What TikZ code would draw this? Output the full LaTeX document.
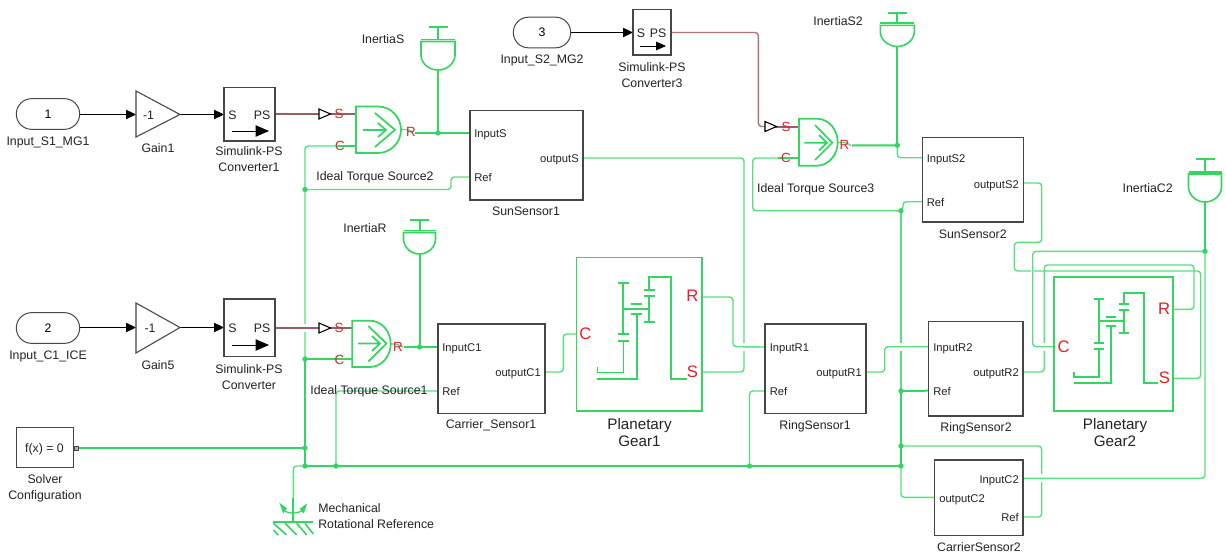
\documentclass[tikz,border=0pt]{standalone}
\usepackage{fontspec}
\setmainfont{Liberation Sans}
\usetikzlibrary{arrows.meta,calc}
\definecolor{gw}{RGB}{51,214,96}
\definecolor{gl}{RGB}{88,224,128}
\definecolor{brw}{RGB}{150,95,100}
\definecolor{brl}{RGB}{175,115,120}
\definecolor{txtc}{RGB}{35,35,35}
\definecolor{redc}{RGB}{235,30,40}
\definecolor{edgec}{RGB}{70,70,70}
\tikzset{
  sysblock/.style={draw=edgec,line width=.95pt,fill=white,inner sep=0pt,outer sep=0pt},
  thickw/.style={draw=gw,line width=1.5pt},
  thinw/.style={draw=gl,line width=1.05pt,rounded corners=2.5pt},
  brownw/.style={draw=brw,line width=1.5pt},
  brownt/.style={draw=brl,line width=1.05pt,rounded corners=2.5pt},
  sig/.style={draw=black,line width=.75pt,-{Triangle[length=7.5pt,width=7pt]}},
  gear/.style={draw=gw,line width=1.5pt},
  gearbox/.style={draw=gw,line width=1.4pt,inner sep=0pt,outer sep=0pt},
  junc/.style={circle,fill=gw,inner sep=0pt,minimum size=4pt},
  lbl/.style={font=\fontsize{9.25}{12}\selectfont,text=txtc,align=center,inner sep=0pt,text height=.72em,text depth=0pt},
  small/.style={font=\fontsize{8.4}{10}\selectfont,text=txtc,inner sep=0pt,text height=.72em,text depth=0pt},
  big/.style={font=\fontsize{11.4}{12.75}\selectfont,text=txtc,align=center,inner sep=0pt,text height=.72em,text depth=0pt},
  redl/.style={font=\fontsize{10}{12}\selectfont,text=redc,inner sep=0pt,text height=.72em,text depth=0pt},
  redb/.style={font=\fontsize{12.5}{14}\selectfont,text=redc,inner sep=0pt,text height=.72em,text depth=0pt},
}
\newcommand{\blk}[6][sysblock]{\pgfmathsetmacro\bx{(#3+#5)/2}\pgfmathsetmacro\by{(#4+#6)/2}\pgfmathsetmacro\bw{(#5-#3)*0.75}\pgfmathsetmacro\bh{(#6-#4)*0.75}\node[#1,minimum width=\bw pt,minimum height=\bh pt] (#2) at (\bx,\by) {};}
\newcommand{\tsrc}[5]{\pgfmathsetmacro\ym{(#2+#3)/2}\pgfmathsetmacro\ka{#4+(#5-#4)*.55}\pgfmathsetmacro\kb{\ym-(#3-#2)*.275}\pgfmathsetmacro\kc{\ym+(#3-#2)*.275}\draw[draw=gw,line width=1.3pt,fill=white] (#1,#2)--(#4,#2) .. controls (\ka,#2) and (#5,\kb) .. (#5,\ym) .. controls (#5,\kc) and (\ka,#3) .. (#4,#3) --(#1,#3)--cycle;}
\newcommand{\inert}[5]{\pgfmathsetmacro\xl{#1-#5}\pgfmathsetmacro\xr{#1+#5}\pgfmathsetmacro\bl{#1-9.5}\pgfmathsetmacro\br{#1+9.5}\pgfmathsetmacro\yc{#3+2}\pgfmathsetmacro\ys{#4-15}\pgfmathsetmacro\kl{#1-#5*.55}\pgfmathsetmacro\kr{#1+#5*.55}\pgfmathsetmacro\ykk{#4-7}
\draw[thickw] (\bl,#2)--(\br,#2) (#1,#2)--(#1,#3);
\draw[draw=gw,line width=1.4pt] (\xl,#3)--(\xr,#3);
\draw[draw=gw,line width=1.2pt] (\xl,\yc)--(\xr,\yc)--(\xr,\ys) .. controls (\xr,\ykk) and (\kr,#4) .. (#1,#4) .. controls (\kl,#4) and (\xl,\ykk) .. (\xl,\ys)--cycle;}
\newcommand{\opentri}[2]{\pgfmathsetmacro\xa{#1+11.5}\pgfmathsetmacro\ya{#2-5}\pgfmathsetmacro\yb{#2+5}\draw[black,line width=.8pt,fill=white] (#1,\ya)--(\xa,#2)--(#1,\yb)--cycle;}
\newcommand{\gapat}[2]{\pgfmathsetmacro\ya{#2-4}\pgfmathsetmacro\yb{#2+4}\draw[white,line width=2pt] (#1,\ya)--(#1,\yb);}
\begin{document}
\begin{tikzpicture}[x=0.75pt,y=-0.75pt]
\useasboundingbox (0,0) rectangle (1226,553);
\fill[white] (0,0) rectangle (1226,553);

% ---------- named ports
\coordinate (in1out) at (80,114.5);
\coordinate (g1in) at (136,114.5); \coordinate (g1out) at (180,114.5);
\coordinate (cv1in) at (224,114.5); \coordinate (cv1out) at (274,114);
\coordinate (tri2) at (319,114); \coordinate (ts2S) at (356,114); \coordinate (ts2C) at (356,146);
\coordinate (ts2R) at (401,129.5);
\coordinate (s1In) at (470,133); \coordinate (s1Ref) at (470,177); \coordinate (s1Out) at (583,158);
\coordinate (in2out) at (80,327.5);
\coordinate (g5in) at (136,327.5); \coordinate (g5out) at (180,327.5);
\coordinate (cvin) at (224,327.5); \coordinate (cvout) at (274,328);
\coordinate (tri1) at (319,328); \coordinate (ts1S) at (352,328); \coordinate (ts1C) at (352,359);
\coordinate (ts1R) at (391,344);
\coordinate (c1In) at (438,347); \coordinate (c1Ref) at (438,391); \coordinate (c1Out) at (545,372);
\coordinate (pg1C) at (576.5,334); \coordinate (pg1R) at (702,297); \coordinate (pg1S) at (702,372);
\coordinate (r1In) at (765,347); \coordinate (r1Ref) at (765,391); \coordinate (r1Out) at (866,372);
\coordinate (in3out) at (571,32.5); \coordinate (cv3in) at (633,32.5); \coordinate (cv3out) at (670,32.5);
\coordinate (tri3) at (765,126.5); \coordinate (ts3S) at (799,126.5); \coordinate (ts3C) at (799,158);
\coordinate (ts3R) at (838,142.5);
\coordinate (s2In) at (922,157.7); \coordinate (s2Ref) at (922,201.7); \coordinate (s2Out) at (1023,183);
\coordinate (r2In) at (928.5,346.7); \coordinate (r2Ref) at (928.5,390.7); \coordinate (r2Out) at (1023,372);
\coordinate (pg2C) at (1054.3,346.7); \coordinate (pg2R) at (1173.3,309.3); \coordinate (pg2S) at (1173.3,378.3);
\coordinate (c2In) at (1023,478.3); \coordinate (c2Out) at (935,497.3); \coordinate (c2Ref) at (1023,517);
\coordinate (solverp) at (77,448);
\coordinate (mech) at (293.3,522);
\coordinate (iS) at (438,70); \coordinate (iR) at (419.5,254); \coordinate (iS2) at (897.3,46.5); \coordinate (iC2) at (1205,202);

% ---------- junctions
\coordinate (j1) at (305,189.5); \coordinate (j2) at (305,359); \coordinate (j3) at (305,448); \coordinate (j4) at (305,466);
\coordinate (j5) at (336,466); \coordinate (j6) at (749.5,466); \coordinate (j7) at (901,466);
\coordinate (j8) at (901,446); \coordinate (j9) at (901,391); \coordinate (j10) at (901,210.7);
\coordinate (j11) at (438,133); \coordinate (j12) at (419.5,347); \coordinate (j13) at (897.3,145.3); \coordinate (j14) at (1205,251.3);

% ---------- wires that get crossed
\draw[thinw] (ts2C)-|(j2);
\draw[thickw] (j2)--(j4);
\draw[thinw] (j10)--(j9);
\draw[thickw] (j9)--(j7);
\draw[thinw] (j7)|-(c2Out);
\draw[thinw] (s1Out)-|(744,372)--(pg1S);
\draw[thinw] (pg2R)-|(1194,265)-|(1044.3,372)--(r2Out);
\draw[thinw] (c2Ref)-|(1041.7,446)--(j8);
\draw[thinw] (s2Out)-|(1041.7,242.3)-|(1014.3,271)-|(1200.7,378.3)--(pg2S);
\gapat{305}{328}\gapat{744}{347}\gapat{901}{346.7}\gapat{1044.3}{346.7}\gapat{1041.7}{478.3}\gapat{1032.7}{271}

% ---------- remaining wires
\draw[thinw] (j1)-|(451,177)--(s1Ref);
\draw[thinw] (c1Ref)-|(j5);
\draw[thinw] (j4)-|(mech);
\draw[thickw] (ts1C)--(j2);
\draw[thickw] (ts2C)--(338,146);
\draw[thickw] (solverp)--(j3);
\draw[thickw] (j4)--(j7);
\draw[thickw] (iS)--(j11);
\draw[thickw] (iR)--(j12);
\draw[thickw] (iS2)--(j13);
\draw[thickw] (415,133)--(s1In);
\draw[thickw] (404,347)--(c1In);
\draw[thickw] (852,145.5)--(j13);
\draw[thickw] (j9)--(r2Ref);
\draw[thinw] (ts2R)--(409,129.5)--(413,133);
\draw[thinw] (ts1R)--(397,344)--(403,347);
\draw[thinw] (ts3R)--(846,142.5)--(851,145.5);
\draw[thinw] (j13)|-(s2In);
\draw[thinw] (j10)-|(903,201.7)--(s2Ref);
\draw[thinw] (ts3C)--(752.7,158)|-(j10);
\draw[thickw] (ts3C)--(778,158);
\draw[thinw] (c1Out)-|(563.3,334)--(pg1C);
\draw[thinw] (pg1R)-|(733,346.7)--(r1In);
\draw[thinw] (r1Ref)-|(j6);
\draw[thinw] (r1Out)-|(884.7,346.7)--(r2In);
\draw[thinw] (j14)-|(1032.7,346.7)--(pg2C);
\draw[thickw] (iC2)--(j14);
\draw[thinw] (j14)--(1205,478.3)--(c2In);
\draw[brownw] (cv1out)--(tri2) (330,114)--(ts2S);
\draw[brownw] (cvout)--(tri1) (330,328)--(ts1S);
\draw[brownt] (cv3out)-|(758.3,126.5)--(tri3);
\draw[brownw] (775,126.5)--(ts3S);

% ---------- junction dots
\foreach \j in {j1,j2,j3,j4,j5,j6,j7,j8,j9,j10,j11,j12,j13,j14}{\node[junc] (dot\j) at (\j) {};}

% ---------- signal lines
\draw[sig] (in1out)--(g1in);
\draw[sig] (g1out)--(cv1in);
\draw[sig] (in2out)--(g5in);
\draw[sig] (g5out)--(cvin);
\draw[sig] (in3out)--(cv3in);

% ---------- inports
\node[sysblock,line width=.75pt,rounded corners=11.4pt,minimum width=47.5pt,minimum height=23pt,font=\fontsize{9.25}{12}\selectfont] (in1) at (48,114) {1};
\node[sysblock,line width=.75pt,rounded corners=11.4pt,minimum width=47.5pt,minimum height=23pt,font=\fontsize{9.25}{12}\selectfont] (in2) at (48,328) {2};
\node[sysblock,line width=.75pt,rounded corners=11.4pt,minimum width=43pt,minimum height=23pt,font=\fontsize{9.25}{12}\selectfont] (in3) at (542,32.5) {3};
\node[lbl] (lin1) at (48,140.5) {Input\_S1\_MG1};
\node[lbl] (lin2) at (48,355) {Input\_C1\_ICE};
\node[lbl] (lin3) at (542,59) {Input\_S2\_MG2};

% ---------- gains
\draw[draw=edgec,line width=.8pt,fill=white] (136,91)--(180,114.5)--(136,137)--cycle;
\draw[draw=edgec,line width=.8pt,fill=white] (136,303)--(180,327.5)--(136,353)--cycle;
\node[lbl] (g1t) at (148.5,114.5) {-1};
\node[lbl] (g5t) at (150,328) {-1};
\node[lbl] (g1l) at (158,147.5) {Gain1};
\node[lbl] (g5l) at (158,365) {Gain5};

% ---------- converters
\blk{cv1}{224}{87.5}{275}{141}
\blk{cv}{224}{299}{275}{356.5}
\blk{cv3}{633}{9.5}{671}{55}
\node[lbl] (cv1s) at (232.5,114.5) {S}; \node[lbl] (cv1p) at (262,114.5) {PS};
\node[lbl] (cvs) at (232.5,328) {S}; \node[lbl] (cvp) at (262,328) {PS};
\node[lbl] (cv3s) at (641,32.5) {S}; \node[lbl] (cv3p) at (658,32.5) {PS};
\draw[black,line width=.7pt,-{Triangle[length=10pt,width=8.5pt]}] (232,131)--(269,131);
\draw[black,line width=.7pt,-{Triangle[length=10pt,width=8.5pt]}] (232,345)--(269,345);
\draw[black,line width=.7pt,-{Triangle[length=7.5pt,width=6.5pt]}] (640,46)--(666,46);
\node[lbl] (cv1l) at (249,167) {Simulink-PS\\Converter1};
\node[lbl] (cvl) at (249,385) {Simulink-PS\\Converter};
\node[lbl] (cv3l) at (652,83) {Simulink-PS\\Converter3};

% ---------- torque sources
\tsrc{356}{106.5}{153}{378}{401}
\draw[draw=gw,line width=1.3pt] (363,130)--(385,130) (378,123)--(386,130)--(378,137) (375,113)--(395,129.8)--(375,147);
\tsrc{352.3}{320.7}{367}{370}{390.7}
\draw[draw=gw,line width=1.3pt] (358,343.5)--(379,343.5) (372,336)--(380,343.5)--(372,351) (368.3,326)--(386.5,343.5)--(368.3,361.5);
\tsrc{799}{118.7}{165.7}{817}{837.7}
\draw[draw=gw,line width=1.3pt] (804.3,142.7)--(826,142.7) (819,135)--(827,142.7)--(819,150.5) (815,125)--(832.3,142.7)--(815,160);
\opentri{319}{114}\opentri{319}{328}\opentri{765}{126.5}
\node[redl] (t2S) at (339,114) {S}; \node[redl] (t2C) at (340,145.5) {C}; \node[redl] (t2R) at (411,132) {R};
\node[redl] (t1S) at (339,328) {S}; \node[redl] (t1C) at (339.5,360) {C}; \node[redl] (t1R) at (398,347) {R};
\node[redl] (t3S) at (786,126.5) {S}; \node[redl] (t3C) at (786,158) {C}; \node[redl] (t3R) at (844.5,145) {R};
\node[lbl] (t2l) at (375,175.5) {Ideal Torque Source2};
\node[lbl] (t1l) at (369,390) {Ideal Torque Source1};
\node[lbl] (t3l) at (815.7,188) {Ideal Torque Source3};

% ---------- inertias
\inert{438}{27}{39.5}{70}{17}
\inert{419.5}{220}{230.5}{254}{16}
\inert{897.3}{13.3}{23.3}{46.5}{17}
\inert{1205}{159}{172}{202}{16.5}
\node[lbl] (iSl) at (383,38.5) {InertiaS};
\node[lbl] (iRl) at (365,228) {InertiaR};
\node[lbl] (iS2l) at (838,20.5) {InertiaS2};
\node[lbl] (iC2l) at (1147.7,187.7) {InertiaC2};

% ---------- sensors
\blk{sun1}{470}{110.5}{583}{200}
\blk{car1}{438}{324}{545}{413.5}
\blk{ring1}{765}{324}{866}{413.7}
\blk{sun2}{922.3}{137.7}{1023.3}{222}
\blk{ring2}{928.7}{321.7}{1023}{416}
\blk{car2}{934.7}{460}{1023}{535.3}
\node[small,anchor=west] (a1) at (474,133) {InputS};
\node[small,anchor=west] (a2) at (474,177) {Ref};
\node[small,anchor=east] (a3) at (579,158) {outputS};
\node[lbl] (a4) at (526,211) {SunSensor1};
\node[small,anchor=west] (b1) at (442,347) {InputC1};
\node[small,anchor=west] (b2) at (442,390.5) {Ref};
\node[small,anchor=east] (b3) at (541,372) {outputC1};
\node[lbl] (b4) at (491,424) {Carrier\_Sensor1};
\node[small,anchor=west] (c1) at (769.5,347) {InputR1};
\node[small,anchor=west] (c2) at (769.5,391) {Ref};
\node[small,anchor=east] (c3) at (862,372) {outputR1};
\node[lbl] (c4) at (815,425) {RingSensor1};
\node[small,anchor=west] (d1) at (926.5,158) {InputS2};
\node[small,anchor=west] (d2) at (926.5,202) {Ref};
\node[small,anchor=east] (d3) at (1019,183.5) {outputS2};
\node[lbl] (d4) at (972.7,234) {SunSensor2};
\node[small,anchor=west] (e1) at (933,347) {InputR2};
\node[small,anchor=west] (e2) at (933,391) {Ref};
\node[small,anchor=east] (e3) at (1019,372) {outputR2};
\node[lbl] (e4) at (976,427) {RingSensor2};
\node[small,anchor=east] (f1) at (1019,479) {InputC2};
\node[small,anchor=west] (f2) at (939,498) {outputC2};
\node[small,anchor=east] (f3) at (1019,517) {Ref};
\node[lbl] (f4) at (979,547) {CarrierSensor2};

% ---------- planetary gears
\blk[gearbox]{pg1}{576.5}{257.5}{702}{411}
\blk[gearbox]{pg2}{1054.3}{276.7}{1173.3}{411}
\draw[gear] (618.3,282.7)--(629,282.7) (623.3,282.7)--(623.3,334) (618,334)--(629,334) (618,340.7)--(629,340.7);
\draw[gear,line width=1.2pt] (623.3,340.7)--(623.3,372.3)--(597.3,372.3)--(597.3,366.7);
\draw[gear] (597.3,378.7)--(636.7,378.7)--(636.7,314) (631,314)--(642.3,314) (631,303.7)--(642.3,303.7);
\draw[gear] (623.3,308.7)--(649.3,308.7) (649.3,296)--(649.3,321.7) (644,321.7)--(655,321.7) (644,296)--(655,296) (644,289.7)--(655,289.7);
\draw[gear] (649.3,289.7)--(649.3,276.7)--(670.7,276.7)--(670.7,378.7)--(686.7,378.7);
\draw[gear] (1094,298.7)--(1104,298.7) (1099,298.7)--(1099,343.3) (1094,343.3)--(1104,343.3) (1094,348.7)--(1104,348.7);
\draw[gear,line width=1.2pt] (1099,348.7)--(1099,376.7)--(1074,376.7)--(1074,372.3);
\draw[gear] (1074,382.7)--(1111,382.7)--(1111,326.3) (1106,326.3)--(1116,326.3) (1106,316.7)--(1116,316.7);
\draw[gear] (1099,321)--(1124.3,321) (1124.3,309.7)--(1124.3,332.7) (1119.3,332.7)--(1129.3,332.7) (1119.3,309.7)--(1129.3,309.7) (1119.3,303.7)--(1129.3,303.7);
\draw[gear] (1124.3,303.7)--(1124.3,293.3)--(1144,293.3)--(1144,382.7)--(1158.3,382.7);
\node[redb] (p1C) at (585.5,335) {C}; \node[redb] (p1R) at (692.5,296.5) {R}; \node[redb] (p1S) at (692.5,373) {S};
\node[redb] (p2C) at (1063.7,347.7) {C}; \node[redb] (p2R) at (1164,310) {R}; \node[redb] (p2S) at (1164.3,378.7) {S};
\node[big] (p1l) at (639.5,442) {Planetary\\Gear1};
\node[big] (p2l) at (1115,442) {Planetary\\Gear2};

% ---------- solver
\blk{solver}{16.5}{427.3}{73.5}{467.3}
\node[lbl] (solvt) at (44.5,447.5) {f(x) = 0};
\draw[draw=edgec,line width=.6pt,fill=gray!60] (74.5,446)--(78,446)--(78,450)--(74.5,450)--cycle;
\node[lbl] (solvl) at (45,495) {Solver\\Configuration};

% ---------- mechanical reference
\draw[thickw] (273.3,522.3)--(313.3,522.3);
\draw[thickw] (mech)--(293.3,498);
\draw[draw=gw,line width=1.2pt] (273.5,530)--(278.3,535) (273.5,523.3)--(286.7,535) (285,523.3)--(296.7,535) (296.7,523.3)--(306.7,535) (305,523.3)--(313.3,534);
\draw[draw=gw,line width=.9pt] (283,510) .. controls (288,514) and (298,514) .. (303,510);
\fill[gw] (279.3,502.7)--(287,508.3)--(283.3,513.5)--cycle;
\fill[gw] (307.3,503.3)--(299.7,508.8)--(303.7,513.5)--cycle;
\node[lbl,anchor=east,align=left,anchor=west] (mechl) at (318,524) {Mechanical\\Rotational Reference};
\end{tikzpicture}
\end{document}
